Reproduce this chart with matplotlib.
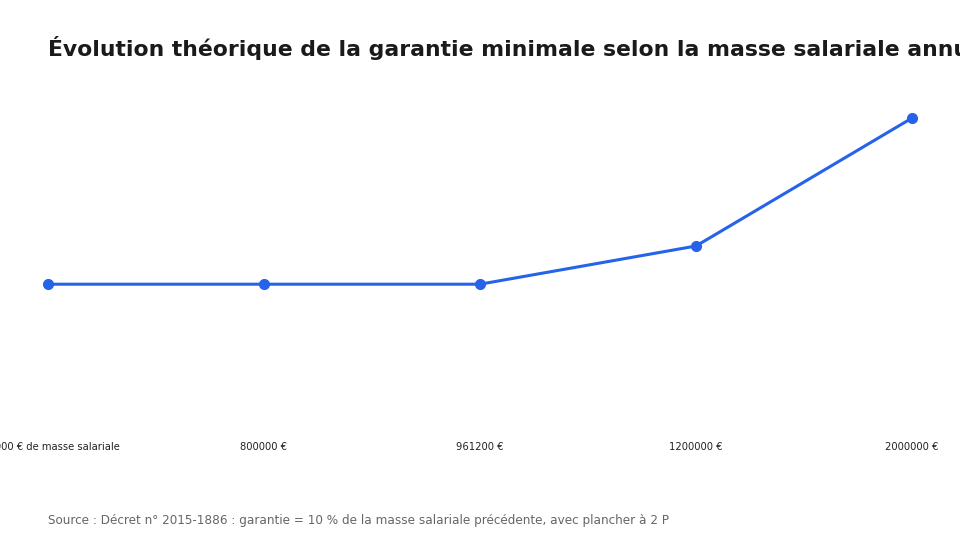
import matplotlib.pyplot as plt

categories = ['500000 € de masse salariale', '800000 €', '961200 €', '1200000 €', '2000000 €']
garantie = [96120, 96120, 96120, 120000, 200000]

fig = plt.figure(figsize=(9.6, 5.4), dpi=100)
ax = fig.add_axes([0.05, 0.189, 0.90, 0.622])

x = list(range(len(categories)))
ax.plot(x, garantie, color='#2563EB', linewidth=2.2, marker='o', markersize=7, clip_on=False)

ax.set_xlim(0, len(categories) - 1)
ax.set_ylim(0, 210000)
ax.set_xticks(x)
ax.set_xticklabels(categories, fontsize=7.2, color='#222222')
ax.tick_params(axis='x', length=0, pad=3)
ax.set_yticks([])
for s in ax.spines.values():
    s.set_visible(False)

fig.text(0.05, 0.912, 'Évolution théorique de la garantie minimale selon la masse salariale annuelle',
         fontsize=15.75, fontweight='bold', color='#1a1a1a', ha='left', va='center')
fig.text(0.05, 0.037, 'Source : Décret n° 2015-1886 : garantie = 10 % de la masse salariale précédente, avec plancher à 2 P',
         fontsize=8.65, color='#666666', ha='left', va='center')

fig.savefig('out.png', dpi=100)
